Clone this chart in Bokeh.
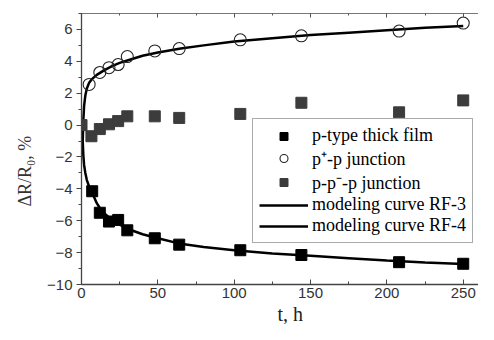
from bokeh.plotting import figure
from bokeh.models import (Range1d, SingleIntervalTicker, LinearAxis, Legend, LegendItem, Title)
from bokeh.embed import file_html
from bokeh.resources import INLINE

# ---- data ----
t_film = [7, 12, 18, 24, 30, 48, 64, 104, 144, 208, 250]
r_film = [-4.15, -5.5, -6.05, -5.95, -6.6, -7.1, -7.5, -7.85, -8.15, -8.6, -8.7]

t_pp = [5, 12, 18, 24, 30, 48, 64, 104, 144, 208, 250]
r_pp = [2.55, 3.3, 3.6, 3.8, 4.3, 4.65, 4.8, 5.35, 5.6, 5.9, 6.4]

t_ppp = [0, 6.5, 12, 18, 24, 30, 48, 64, 104, 144, 208, 250]
r_ppp = [0, -0.7, -0.25, 0.05, 0.25, 0.55, 0.55, 0.45, 0.7, 1.4, 0.8, 1.55]

t_rf3 = [0.8, 1.2, 1.7, 2.5, 3.5, 5, 7, 10, 15, 20, 25, 30, 40, 50, 65, 80, 100, 125, 150, 175, 200, 225, 250]
r_rf3 = [-1.0, 0.3, 1.2, 1.85, 2.3, 2.65, 2.9, 3.15, 3.45, 3.7, 3.9, 4.05, 4.35, 4.55, 4.8, 5.0, 5.25, 5.45, 5.65, 5.8, 5.95, 6.1, 6.22]

t_rf4 = [0.8, 1.2, 1.7, 2.5, 3.5, 5, 7, 10, 12, 15, 20, 25, 30, 40, 50, 65, 80, 100, 125, 150, 175, 200, 225, 250]
r_rf4 = [-1.0, -1.9, -2.5, -3.0, -3.45, -3.85, -4.25, -4.9, -5.2, -5.55, -5.95, -6.25, -6.5, -6.85, -7.1, -7.45, -7.65, -7.85, -8.05, -8.2, -8.35, -8.5, -8.62, -8.72]

x_label = "t, h"
y_label = "ΔR/R₀, %"
names = ["p-type thick film", "p\u207a-p junction", "p-p\u207b-p junction",
         "modeling curve RF-3", "modeling curve RF-4"]

p = figure(width=478, height=324, output_backend="svg", toolbar_location=None,
           x_range=Range1d(0, 260), y_range=Range1d(-10, 7),
           min_border_left=81, min_border_right=0, min_border_top=13, min_border_bottom=37)
p.outline_line_color = None
p.grid.visible = False
p.background_fill_color = "white"
p.border_fill_color = "white"

axis_col = "#444444"
lbl_col = "#333333"

# bottom axis
xa = p.xaxis[0]
xa.ticker = SingleIntervalTicker(interval=50, num_minor_ticks=2)
xa.major_tick_in = 5
xa.major_tick_out = 0
xa.minor_tick_in = 3
xa.minor_tick_out = 0
xa.major_label_standoff = 3
xa.major_label_text_font = "Liberation Sans"
xa.major_label_text_font_size = "15px"
xa.major_label_text_color = lbl_col
xa.axis_line_color = axis_col
xa.major_tick_line_color = axis_col
xa.minor_tick_line_color = axis_col
xa.axis_line_width = 1.3

# left axis
ya = p.yaxis[0]
ya.ticker = SingleIntervalTicker(interval=2, num_minor_ticks=2)
ya.major_tick_in = 0
ya.major_tick_out = 5
ya.minor_tick_in = 0
ya.minor_tick_out = 3
ya.major_label_standoff = 4
ya.major_label_text_font = "Liberation Sans"
ya.major_label_text_font_size = "15px"
ya.major_label_text_color = lbl_col
ya.axis_line_color = axis_col
ya.major_tick_line_color = axis_col
ya.minor_tick_line_color = axis_col
ya.axis_line_width = 1.3

# top axis (ticks only)
top = LinearAxis(ticker=SingleIntervalTicker(interval=50, num_minor_ticks=2))
top.major_tick_in = 4
top.major_tick_out = 0
top.minor_tick_in = 2
top.minor_tick_out = 0
top.major_label_text_font_size = "1px"
top.major_label_text_color = None
top.major_label_standoff = 0
top.axis_line_color = "#777777"
top.major_tick_line_color = "#555555"
top.minor_tick_line_color = "#555555"
p.add_layout(top, "above")

# curves
rf3 = p.line(t_rf3, r_rf3, line_color="black", line_width=2.5)
rf4 = p.line(t_rf4, r_rf4, line_color="black", line_width=2.5)

# markers
film = p.scatter(t_film, r_film, marker="square", size=11, fill_color="black", line_color="black")
pp = p.scatter(t_pp, r_pp, marker="circle", size=12, fill_color=None, line_color="#222222", line_width=1.1)
ppp = p.scatter(t_ppp, r_ppp, marker="square", size=11, fill_color="#3c3c3c", line_color="#3c3c3c")

legend = Legend(items=[
    LegendItem(label=names[0], renderers=[film]),
    LegendItem(label=names[1], renderers=[pp]),
    LegendItem(label=names[2], renderers=[ppp]),
    LegendItem(label=names[3], renderers=[rf3]),
    LegendItem(label=names[4], renderers=[rf4]),
], location=(171, 41))
legend.label_text_font = "Liberation Serif"
legend.label_text_font_size = "18px"
legend.label_text_color = "black"
legend.glyph_width = 49
legend.glyph_height = 20
legend.label_height = 20
legend.spacing = 0
legend.padding = 6
legend.margin = 0
legend.label_standoff = 4
legend.border_line_color = "#555555"
legend.border_line_width = 1
legend.background_fill_color = "white"
legend.background_fill_alpha = 1.0
p.add_layout(legend)

# axis titles placed like the reference
yt = Title(text=y_label, align="left", offset=78, standoff=20,
           text_font="Liberation Serif", text_font_size="18px",
           text_font_style="normal", text_color="#333333")
p.add_layout(yt, "left")
xt = Title(text=x_label, align="left", offset=196, standoff=0,
           text_font="Liberation Serif", text_font_size="20px",
           text_font_style="normal", text_color="#222222")
p.add_layout(xt, "below")

open("out.html", "w").write(file_html(p, INLINE))
